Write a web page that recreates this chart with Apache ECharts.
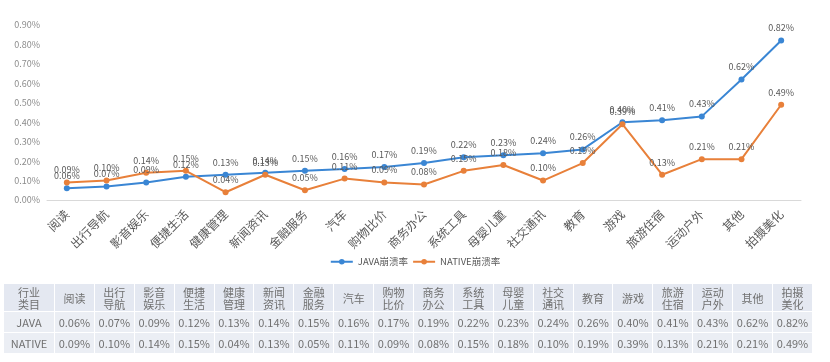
<!DOCTYPE html>
<html>
<head>
<meta charset="utf-8">
<script src="https://cdn.jsdelivr.net/npm/echarts@6/dist/echarts.min.js"></script>
<style>
html,body{margin:0;padding:0;background:#fff;}
#chart{position:absolute;left:0;top:0;width:830px;height:362px;}
#tbl{position:absolute;left:3px;top:283px;border-collapse:collapse;table-layout:fixed;font-family:"Noto Sans CJK SC","Noto Sans",sans-serif;font-size:11px;color:#707070;}
#tbl td{border:1px solid #fff;text-align:center;padding:0;line-height:12px;}
#tbl tr.h td{background:#e4e8f1;height:27px;}
#tbl tr.r td{background:#ebeef4;height:20px;}
</style>
</head>
<body>
<div id="chart"></div>
<table id="tbl"></table>
<script>
const categories = ['阅读','出行导航','影音娱乐','便捷生活','健康管理','新闻资讯','金融服务','汽车','购物比价','商务办公','系统工具','母婴儿童','社交通讯','教育','游戏','旅游住宿','运动户外','其他','拍摄美化'];
const javaRate = [0.06,0.07,0.09,0.12,0.13,0.14,0.15,0.16,0.17,0.19,0.22,0.23,0.24,0.26,0.40,0.41,0.43,0.62,0.82];
const nativeRate = [0.09,0.10,0.14,0.15,0.04,0.13,0.05,0.11,0.09,0.08,0.15,0.18,0.10,0.19,0.39,0.13,0.21,0.21,0.49];
const yTicks = {min:0, max:0.9, interval:0.1};
const seriesNames = ['JAVA崩溃率','NATIVE崩溃率'];
const rowNames = ['JAVA','NATIVE'];

const chart = echarts.init(document.getElementById('chart'));
const font = '"Noto Sans CJK SC","Noto Sans",sans-serif';
const lbl = {show:true,position:'top',distance:5,fontSize:9,color:'#595959',fontFamily:font,formatter:p=>p.value.toFixed(2)+'%'};
chart.setOption({
  animation:false,
  textStyle:{fontFamily:font},
  grid:{left:47,right:29,top:25,bottom:162,containLabel:false},
  legend:{top:252,left:'center',itemWidth:22,itemHeight:7,itemGap:4,textStyle:{fontSize:9.5,color:'#595959'},data:seriesNames},
  xAxis:{type:'category',data:categories,boundaryGap:true,
    axisLine:{lineStyle:{color:'#d9d9d9'}},axisTick:{show:false},
    axisLabel:{rotate:45,interval:0,fontSize:12,color:'#595959',margin:12}},
  yAxis:{type:'value',min:yTicks.min,max:yTicks.max,interval:yTicks.interval,
    splitLine:{show:false},axisLine:{show:false},axisTick:{show:false},
    axisLabel:{fontSize:9,color:'#8c8c8c',margin:7,formatter:v=>v.toFixed(2)+'%'}},
  series:[
    {name:seriesNames[0],type:'line',data:javaRate,symbol:'circle',symbolSize:6,
      itemStyle:{color:'#3a86d4'},lineStyle:{width:2,color:'#3a86d4'},label:lbl},
    {name:seriesNames[1],type:'line',data:nativeRate,symbol:'circle',symbolSize:6,
      itemStyle:{color:'#e8803a'},lineStyle:{width:2,color:'#e8803a'},label:lbl}
  ]
});

// table
const tbl = document.getElementById('tbl');
function splitName(s){ return s.length===4 ? s.slice(0,2)+'<br>'+s.slice(2) : s; }
let html = '<colgroup><col style="width:51px">' + categories.map(()=>'<col style="width:39.9px">').join('') + '</colgroup>';
html += '<tr class="h"><td>行业<br>类目</td>' + categories.map(c=>'<td>'+splitName(c)+'</td>').join('') + '</tr>';
[javaRate,nativeRate].forEach((arr,i)=>{
  html += '<tr class="r"><td>'+rowNames[i]+'</td>' + arr.map(v=>'<td>'+v.toFixed(2)+'%</td>').join('') + '</tr>';
});
tbl.innerHTML = html;
</script>
</body>
</html>
